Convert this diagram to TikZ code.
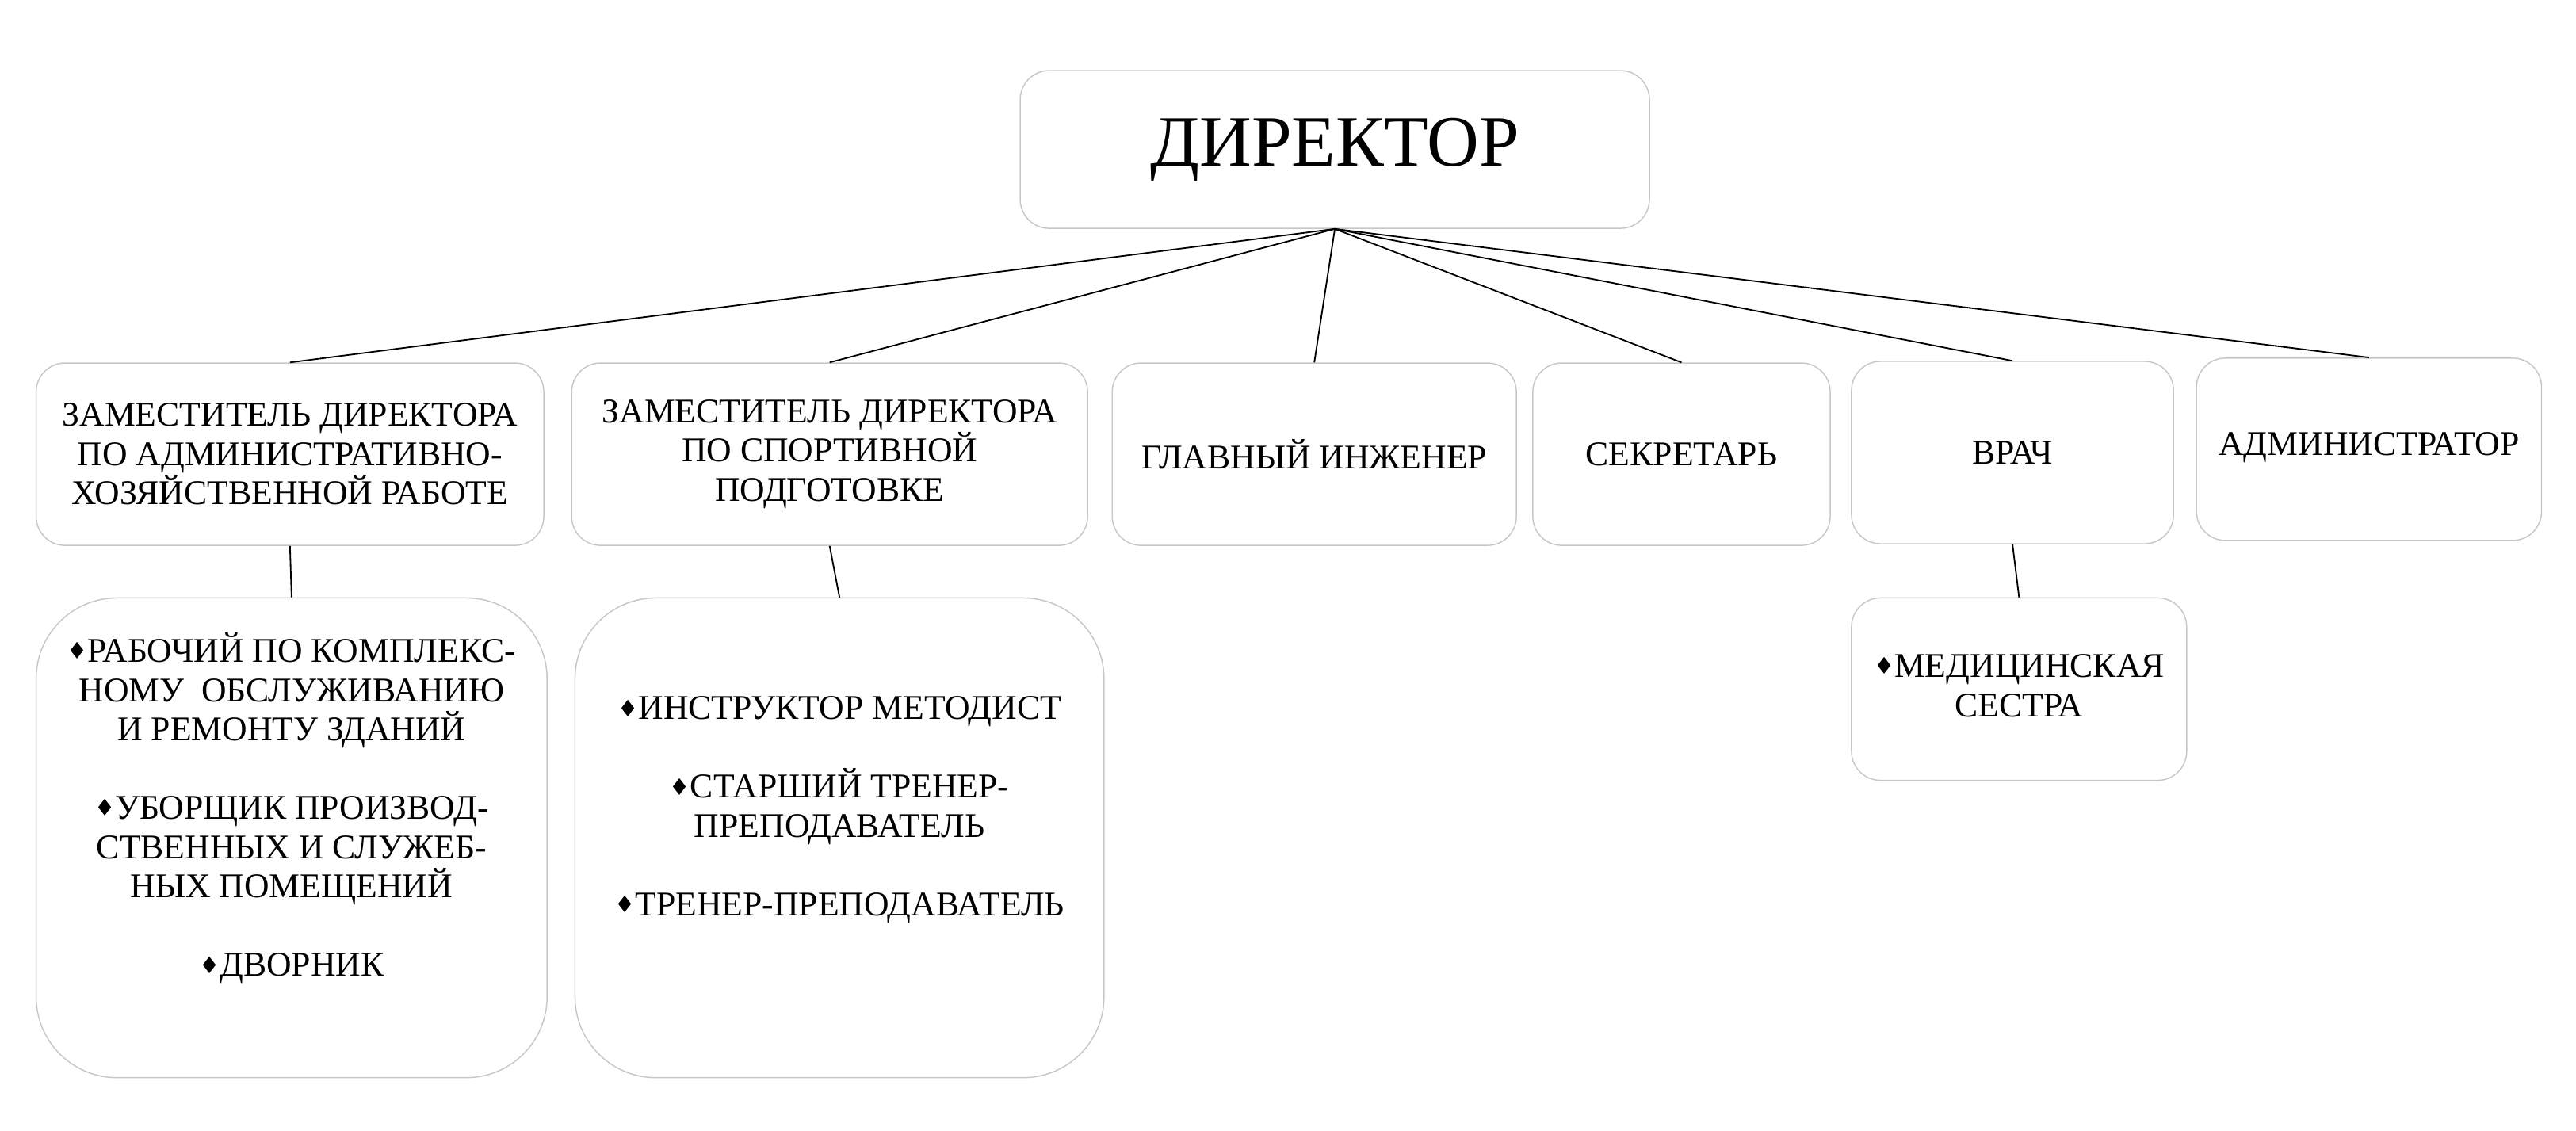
\documentclass[tikz,border=0pt]{standalone}
\usepackage{fontspec}
\setmainfont{Liberation Serif}
\newfontfamily\symfont{DejaVu Sans}
\usetikzlibrary{positioning}
\newcommand{\dm}{{\symfont\fontsize{8}{8}\selectfont\raisebox{1pt}{♦}}}
\begin{document}
\begin{tikzpicture}[x=0.02cm,y=-0.02cm,
    box/.style={draw=black!22,rounded corners=10pt,inner sep=0pt,align=center,
      font=\fontsize{12}{13.6}\selectfont},
    bigbox/.style={draw=black!22,rounded corners=28pt,inner sep=0pt},
    txt/.style={align=center,inner sep=0pt,font=\fontsize{12}{13.6}\selectfont},
    link/.style={draw=black,line width=0.5pt}]
  \useasboundingbox (0,0) rectangle (1568,688);
  \node[box,minimum width=383*0.02cm,minimum height=96*0.02cm,
        font=\fontsize{25}{28}\selectfont] (dir) at (812.5,91) {ДИРЕКТОР};
  \node[box,minimum width=309*0.02cm,minimum height=111*0.02cm] (zah) at (176.5,276.5)
    {ЗАМЕСТИТЕЛЬ ДИРЕКТОРА\\ПО АДМИНИСТРАТИВНО-\\ХОЗЯЙСТВЕННОЙ РАБОТЕ};
  \node[box,minimum width=314*0.02cm,minimum height=111*0.02cm] (zsp) at (505,276.5)
    {ЗАМЕСТИТЕЛЬ ДИРЕКТОРА\\ПО СПОРТИВНОЙ\\ПОДГОТОВКЕ};
  \node[box,minimum width=246*0.02cm,minimum height=111*0.02cm] (eng) at (800,276.5)
    {ГЛАВНЫЙ ИНЖЕНЕР};
  \node[box,minimum width=181*0.02cm,minimum height=111*0.02cm] (sec) at (1023.5,276.5)
    {СЕКРЕТАРЬ};
  \node[box,minimum width=196*0.02cm,minimum height=111*0.02cm] (doc) at (1225,275.5)
    {ВРАЧ};
  \node[box,minimum width=210*0.02cm,minimum height=111*0.02cm] (adm) at (1442,273.5)
    {\raisebox{4pt}{АДМИНИСТРАТОР}};
  % lower boxes
  \node[bigbox,minimum width=311*0.02cm,minimum height=292*0.02cm] (stfa) at (177.5,510) {};
  \node[txt] (stfat) at (177.5,492)
    {\dm РАБОЧИЙ ПО КОМПЛЕКС-\\НОМУ\ \ ОБСЛУЖИВАНИЮ\\И РЕМОНТУ ЗДАНИЙ\\[13.6pt]
     \dm УБОРЩИК ПРОИЗВОД-\\СТВЕННЫХ И СЛУЖЕБ-\\НЫХ ПОМЕЩЕНИЙ\\[13.6pt]\dm ДВОРНИК};
  \node[bigbox,minimum width=322*0.02cm,minimum height=292*0.02cm] (stfs) at (511,510) {};
  \node[txt] (stfst) at (511,493)
    {\dm ИНСТРУКТОР МЕТОДИСТ\\[13.6pt]\dm СТАРШИЙ ТРЕНЕР-\\ПРЕПОДАВАТЕЛЬ\\[13.6pt]
     \dm ТРЕНЕР-ПРЕПОДАВАТЕЛЬ};
  \node[box,minimum width=204*0.02cm,minimum height=111*0.02cm] (med) at (1229,419.5)
    {\raisebox{8pt}{\begin{tabular}{@{}c@{}}\dm МЕДИЦИНСКАЯ\\СЕСТРА\end{tabular}}};
  % connectors
  \foreach \n in {zah,zsp,eng,sec,doc,adm}
    \draw[link] (dir.south) -- (\n.north);
  \draw[link] (zah.south) -- (stfa.north);
  \draw[link] (zsp.south) -- (stfs.north);
  \draw[link] (doc.south) -- (med.north);
\end{tikzpicture}
\end{document}
